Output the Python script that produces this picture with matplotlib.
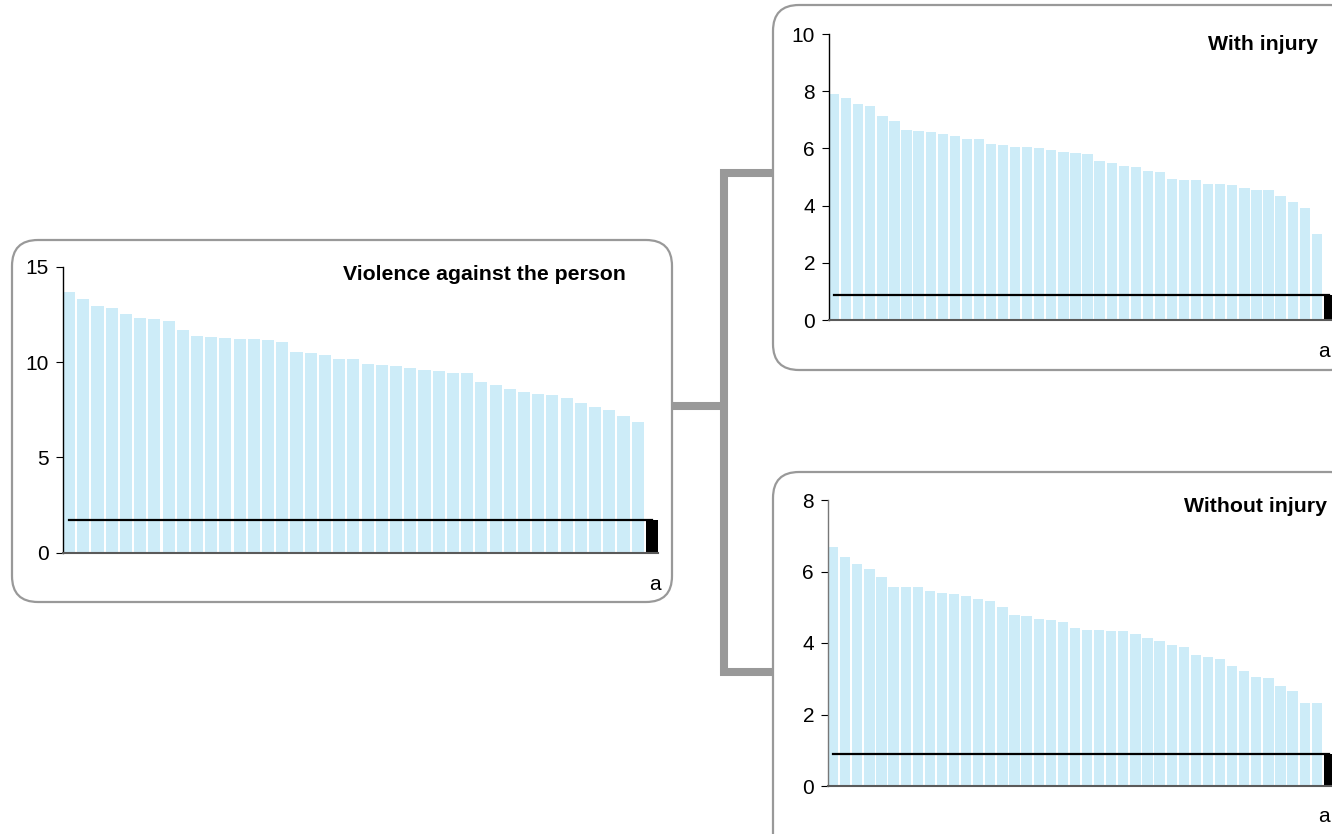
import numpy as np
import matplotlib
matplotlib.use("Agg")
import matplotlib.pyplot as plt
from matplotlib.patches import FancyBboxPatch

plt.rcParams.update({"font.family": ["Liberation Sans", "DejaVu Sans"], "font.size": 15})

# rates per area, sorted, plus the overall figure (black bar + line)
violence = [13.69, 13.32, 12.95, 12.85, 12.53, 12.32, 12.27, 12.17, 11.69, 11.38, 11.33, 11.27, 11.22, 11.22,
            11.17, 11.06, 10.54, 10.49, 10.38, 10.17, 10.17, 9.91, 9.85, 9.80, 9.70, 9.59, 9.54, 9.43, 9.43,
            8.96, 8.80, 8.59, 8.44, 8.33, 8.28, 8.12, 7.86, 7.65, 7.49, 7.18, 6.86]
violence_avg = 1.72
with_injury = [7.89, 7.76, 7.55, 7.48, 7.13, 6.96, 6.64, 6.61, 6.57, 6.50, 6.43, 6.33, 6.33, 6.15, 6.12,
               6.05, 6.05, 6.01, 5.94, 5.87, 5.84, 5.80, 5.56, 5.49, 5.38, 5.35, 5.21, 5.17, 4.93, 4.90,
               4.90, 4.76, 4.76, 4.72, 4.62, 4.55, 4.55, 4.34, 4.13, 3.92, 3.01]
with_avg = 0.86
without_injury = [6.69, 6.41, 6.21, 6.07, 5.85, 5.57, 5.57, 5.57, 5.45, 5.40, 5.37, 5.31, 5.23, 5.17, 5.01,
                  4.78, 4.76, 4.67, 4.64, 4.59, 4.42, 4.36, 4.36, 4.34, 4.34, 4.25, 4.14, 4.06, 3.94, 3.89,
                  3.66, 3.61, 3.55, 3.36, 3.22, 3.05, 3.02, 2.80, 2.66, 2.32, 2.32]
without_avg = 0.90

titles = ["Violence against the person", "With injury", "Without injury"]
yticks = [[0, 5, 10, 15], [0, 2, 4, 6, 8, 10], [0, 2, 4, 6, 8]]

W, H = 1332, 834
BAR = "#cdecf8"; GREY = "#999999"

fig = plt.figure(figsize=(W / 100, H / 100), dpi=100)
bg = fig.add_axes([0, 0, 1, 1], zorder=0)
bg.set_xlim(0, W); bg.set_ylim(H, 0); bg.axis("off")

# rounded panels (the right-hand ones run off the page)
for x0, y0, x1, y1 in [(12, 240, 672, 602), (773, 5, 1356, 370), (773, 472, 1356, 860)]:
    bg.add_patch(FancyBboxPatch((x0, y0), x1 - x0, y1 - y0, boxstyle="round,pad=0,rounding_size=26",
                                fc="white", ec=GREY, lw=1.6))
# connector
cw = 5.8
bg.plot([672, 724], [406, 406], color=GREY, lw=cw, solid_capstyle="butt")
bg.plot([724, 724], [169, 676], color=GREY, lw=cw, solid_capstyle="butt")
bg.plot([720, 773], [173, 173], color=GREY, lw=cw, solid_capstyle="butt")
bg.plot([720, 773], [672, 672], color=GREY, lw=cw, solid_capstyle="butt")


def panel(px, vals, avg, ymax, ticks, title, tpos, apos, spine_col):
    x0, x1, ytop, ybot = px
    ax = fig.add_axes([x0 / W, 1 - ybot / H, (x1 - x0) / W, (ybot - ytop) / H], zorder=2)
    ax.patch.set_alpha(0)
    n = len(vals)
    ax.bar(np.arange(n), vals, width=0.85, color=BAR, zorder=1)
    ax.bar([n], [avg], width=0.85, color="black", zorder=1)
    ax.plot(np.arange(n + 1), [avg] * (n + 1), color="black", lw=1.6, zorder=3)
    ax.set_xlim(-0.425, n + 0.425); ax.set_ylim(0, ymax)
    ax.set_xticks([]); ax.set_yticks(ticks)
    ax.tick_params(axis="y", direction="out", length=5, width=0.8, labelsize=15, pad=5)
    for s in ("top", "right"): ax.spines[s].set_visible(False)
    ax.spines["left"].set_color(spine_col); ax.spines["left"].set_linewidth(1.0)
    ax.spines["bottom"].set_color("#5a5a5a"); ax.spines["bottom"].set_linewidth(1.5)
    bg.text(tpos[0], tpos[1], title, ha="right", va="center", fontsize=15.3, fontweight="bold")
    bg.text(apos[0], apos[1], "a", ha="right", va="center", fontsize=15)


panel((63, 658, 267, 552.7), violence, violence_avg, 15, yticks[0], titles[0], (626, 274), (661, 585), "black")
panel((829, 1334, 34, 320), with_injury, with_avg, 10, yticks[1], titles[1], (1318, 44), (1330, 351), "black")
panel((828, 1334, 500, 786), without_injury, without_avg, 8, yticks[2], titles[2], (1327, 507), (1330, 817), "#777777")

fig.savefig("out.png", dpi=100)
